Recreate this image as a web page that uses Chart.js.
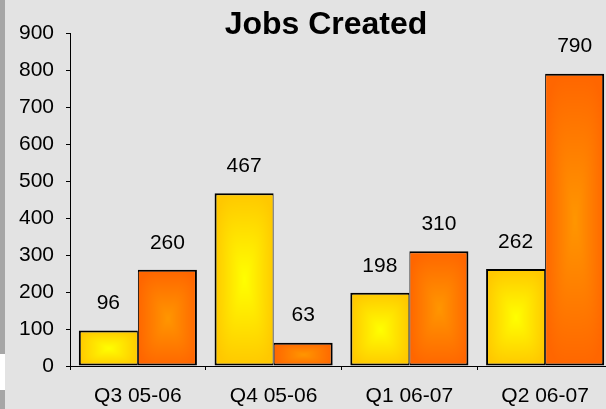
<!DOCTYPE html>
<html>
<head>
<meta charset="utf-8">
<script src="https://cdn.jsdelivr.net/npm/chart.js@4/dist/chart.umd.min.js"></script>
<style>
  html,body{margin:0;padding:0;width:606px;height:409px;overflow:hidden;background:#e3e3e3;}
  #wrap{position:absolute;left:0;top:0;width:614px;height:409px;}
  #strip1{position:absolute;left:0;top:0;width:5px;height:354px;background:#a6a6a6;}
  #strip2{position:absolute;left:0;top:354px;width:5px;height:36px;background:#ffffff;}
  #strip3{position:absolute;left:0;top:390px;width:5px;height:19px;background:#a6a6a6;}
  #title{position:absolute;left:0;top:7px;width:652px;text-align:center;font:bold 32px "Liberation Sans",Arial,sans-serif;line-height:32px;color:#000;z-index:5;}
</style>
</head>
<body>
<div id="strip1"></div><div id="strip2"></div><div id="strip3"></div>
<div id="wrap"><canvas id="c" width="614" height="409"></canvas></div>
<div id="title">Jobs Created</div>
<script>
const categories = ["Q3 05-06", "Q4 05-06", "Q1 06-07", "Q2 06-07"];
const seriesA = [96, 467, 198, 262];
const seriesB = [260, 63, 310, 790];
const yTicks = [0, 100, 200, 300, 400, 500, 600, 700, 800, 900];

const CAT_PCT = 0.87;
const FONT = '"Liberation Sans", Arial, sans-serif';

function mix(a, b, t) { return a.map((v, k) => Math.round(v + (b[k] - v) * t)); }

function rectPattern(ctx2, w, h, cCenter, cEdge, left, top) {
  const cv = document.createElement('canvas');
  cv.width = Math.max(1, Math.ceil(w));
  cv.height = Math.max(1, Math.ceil(h));
  const g = cv.getContext('2d');
  const img = g.createImageData(cv.width, cv.height);
  const hw = cv.width / 2, hh = cv.height / 2;
  for (let y = 0; y < cv.height; y++) {
    for (let x = 0; x < cv.width; x++) {
      const u = Math.abs(x + 0.5 - hw) / hw, v = Math.abs(y + 0.5 - hh) / hh;
      let t = Math.pow(Math.pow(u, 4) + Math.pow(v, 4), 1 / 4);
      t = Math.min(1, t);
      const c = mix(cCenter, cEdge, t);
      const p = (y * cv.width + x) * 4;
      img.data[p] = c[0]; img.data[p + 1] = c[1]; img.data[p + 2] = c[2]; img.data[p + 3] = 255;
    }
  }
  g.putImageData(img, 0, 0);
  const pat = ctx2.createPattern(cv, 'no-repeat');
  pat.setTransform(new DOMMatrix([1, 0, 0, 1, left, top]));
  return pat;
}

function makeFill(c, di, cCenter, cEdge, fallback) {
  const ch = c.chart;
  const xs = ch.scales && ch.scales.x, ys = ch.scales && ch.scales.y;
  if (c.type !== 'data' || !xs || !ys || !isFinite(xs.left)) return fallback;
  const i = c.dataIndex;
  const cat = (xs.right - xs.left) / categories.length;
  const bw = cat * CAT_PCT / 2;
  const cx = xs.getPixelForValue(i);
  const left = di === 0 ? cx - bw : cx;
  const top = ys.getPixelForValue(c.raw);
  const bot = ys.getPixelForValue(0);
  if (!(bot - top > 0)) return fallback;
  return rectPattern(ch.ctx, bw, bot - top, cCenter, cEdge, left, top);
}

const valueLabels = {
  id: 'valueLabels',
  afterDatasetsDraw(chart) {
    const ctx = chart.ctx;
    ctx.save();
    ctx.font = '21px ' + FONT;
    ctx.fillStyle = '#000';
    ctx.textAlign = 'center';
    ctx.textBaseline = 'middle';
    chart.data.datasets.forEach((ds, di) => {
      chart.getDatasetMeta(di).data.forEach((el, i) => {
        ctx.fillText(String(ds.data[i]), el.x, el.y - 27);
      });
    });
    ctx.restore();
  }
};

new Chart(document.getElementById('c'), {
  type: 'bar',
  data: {
    labels: categories,
    datasets: [
      {
        data: seriesA,
        backgroundColor: (c) => makeFill(c, 0, [255, 255, 0], [255, 200, 0], '#ffdd00'),
        borderColor: '#000', borderWidth: { top: 2, left: 2, right: 1, bottom: 2 }, borderSkipped: false,
        barPercentage: 1.0, categoryPercentage: CAT_PCT
      },
      {
        data: seriesB,
        backgroundColor: (c) => makeFill(c, 1, [255, 150, 0], [255, 102, 0], '#ff7700'),
        borderColor: '#000', borderWidth: { top: 2, left: 1, right: 2, bottom: 2 }, borderSkipped: false,
        barPercentage: 1.0, categoryPercentage: CAT_PCT
      }
    ]
  },
  options: {
    responsive: false,
    animation: false,
    devicePixelRatio: 1,
    layout: { padding: { left: 8, top: 33, right: 1, bottom: 0 } },
    plugins: { legend: { display: false }, tooltip: { enabled: false }, title: { display: false } },
    scales: {
      x: {
        afterFit(s) { s.height = 43; },
        grid: { display: true, drawOnChartArea: false, drawTicks: true, tickLength: 4, color: '#000', offset: true },
        border: { display: true, color: '#000', width: 1 },
        ticks: { color: '#000', font: { family: FONT, size: 21 }, padding: 14, maxRotation: 0, autoSkip: false }
      },
      y: {
        min: 0, max: 900,
        afterFit(s) { s.width = 62; },
        afterBuildTicks(s) { s.ticks = yTicks.map(v => ({ value: v })); },
        grid: { display: true, drawOnChartArea: false, drawTicks: true, tickLength: 4, color: '#000' },
        border: { display: true, color: '#000', width: 1 },
        ticks: { color: '#000', font: { family: FONT, size: 21 }, padding: 12, stepSize: 100 }
      }
    }
  },
  plugins: [valueLabels]
});
</script>
</body>
</html>
